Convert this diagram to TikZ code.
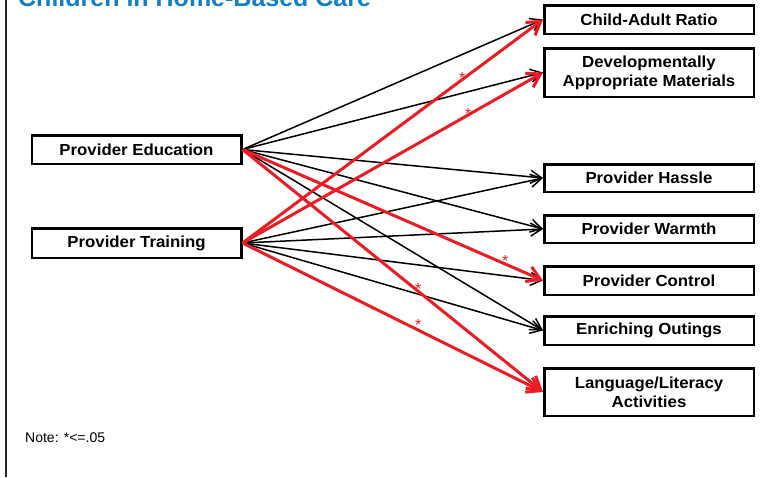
\documentclass[tikz,border=0pt]{standalone}
\usepackage{fontspec}
\setmainfont{Liberation Sans}
\usetikzlibrary{arrows.meta}
\definecolor{sigred}{RGB}{236,28,36}
\definecolor{titleblue}{RGB}{18,128,200}
\begin{document}
\begin{tikzpicture}[x=1pt,y=-1pt,
  box/.style={draw=black, line width=2.5pt, fill=white, minimum width=209.5pt, inner sep=0pt,
    font=\bfseries\fontsize{16}{19}\selectfont\addfontfeature{FakeStretch=1.05}, align=center},
  link/.style={black, line width=1.5pt, -{Straight Barb[length=11pt,width=13pt]}},
  siglink/.style={sigred, line width=3pt, -{Straight Barb[length=13pt,width=16pt]}},
  sig/.style={text=sigred, font=\fontsize{16}{16}\selectfont, inner sep=0pt}]
\useasboundingbox (0,0) rectangle (766,477);
\draw[line width=2pt, black!85] (6,0) -- (6,477);
\node[anchor=base west, text=titleblue, font=\bfseries\fontsize{25}{25}\selectfont, inner sep=0pt] (title) at (18,6) {Children in Home-Based Care};
\node[anchor=west, font=\fontsize{14}{14}\selectfont, inner sep=0pt] (note) at (25,438) {Note: *<=.05};

% left boxes
\node[box, minimum height=28.5pt] (edu) at (136.5,149.5) {Provider Education};
\node[box, minimum height=29.5pt] (train) at (136.5,243) {Provider Training};
% right boxes
\node[box, minimum height=28.5pt] (child) at (649,19.5) {Child-Adult Ratio};
\node[box, minimum height=48.5pt] (dev) at (649,72.5) {Developmentally\\Appropriate Materials};
\node[box, minimum height=27.5pt] (hassle) at (649,178) {Provider Hassle};
\node[box, minimum height=27.5pt] (warmth) at (649,229) {Provider Warmth};
\node[box, minimum height=28.5pt] (control) at (649,280.5) {Provider Control};
\node[box, minimum height=28.5pt] (outings) at (649,330.5) {Enriching Outings};
\node[box, minimum height=47.5pt] (lang) at (649,392) {Language/Literacy\\Activities};

% black paths
\draw[link] (edu.east) -- (child.west);
\draw[link] (edu.east) -- (dev.west);
\draw[link] (edu.east) -- (hassle.west);
\draw[link] (edu.east) -- (warmth.west);
\draw[link] (edu.east) -- (outings.west);
\draw[link] (train.east) -- (hassle.west);
\draw[link] (train.east) -- (warmth.west);
\draw[link] (train.east) -- (control.west);
\draw[link] (train.east) -- (outings.west);

% significant paths
\draw[siglink] (edu.east) -- node[sig, pos=0.874, yshift=3pt] (s3) {*} (control.west);
\draw[siglink] (edu.east) -- node[sig, pos=0.585, yshift=2pt] (s4) {*} (lang.west);
\draw[siglink] (train.east) -- node[sig, pos=0.731, yshift=1.5pt] (s1) {*} (child.west);
\draw[siglink] (train.east) -- node[sig, pos=0.751, yshift=0.5pt] (s2) {*} (dev.west);
\draw[siglink] (train.east) -- node[sig, pos=0.585, yshift=5.5pt] (s5) {*} (lang.west);
\end{tikzpicture}
\end{document}
